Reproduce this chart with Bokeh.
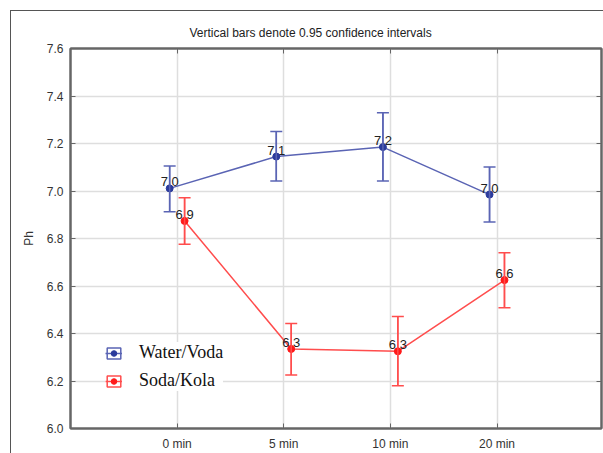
from bokeh.plotting import figure
from bokeh.models import (Range1d, FixedTicker, LinearAxis, Whisker, TeeHead, ColumnDataSource,
                          Legend, LegendItem, NumeralTickFormatter, InlineStyleSheet)
from bokeh.core.properties import value
from bokeh.embed import file_html
from bokeh.resources import INLINE

title_text = "Vertical bars denote 0.95 confidence intervals"
y_label = "Ph"
categories = ["0 min", "5 min", "10 min", "20 min"]
series_names = ["Water/Voda", "Soda/Kola"]
y_ticks = [6.0, 6.2, 6.4, 6.6, 6.8, 7.0, 7.2, 7.4, 7.6]

water_mean = [7.011, 7.145, 7.185, 6.985]
water_lo = [6.913, 7.042, 7.042, 6.869]
water_hi = [7.105, 7.251, 7.329, 7.101]

soda_mean = [6.874, 6.335, 6.325, 6.625]
soda_lo = [6.776, 6.225, 6.180, 6.508]
soda_hi = [6.972, 6.442, 6.472, 6.740]

FONT = "Liberation Sans"
positions = list(range(1, len(categories) + 1))
offset = 0.07

border_css = InlineStyleSheet(css="""
:host::after {
  content: "";
  position: absolute;
  left: 10px; top: 10px; right: 0px; bottom: 0px;
  border-left: 1px solid #555555;
  border-top: 1px solid #555555;
  pointer-events: none;
  z-index: 10;
}
""")

p = figure(width=603, height=453, output_backend="svg", toolbar_location=None,
           x_range=Range1d(0, 4.98), y_range=Range1d(6.0, 7.6),
           min_border_left=70, min_border_right=2, min_border_top=48, min_border_bottom=21,
           x_axis_location=None, y_axis_location=None, stylesheets=[border_css])
p.background_fill_color = "white"
p.border_fill_color = "white"
p.outline_line_color = "#666666"
p.outline_line_width = 2

p.title.text = title_text
p.title.align = "left"
p.title.offset = 119
p.title.text_font = FONT
p.title.text_font_size = "12px"
p.title.text_font_style = "normal"
p.title.text_color = "#222222"
p.title.standoff = 18

def style_axis(ax, show_labels=True):
    ax.major_tick_in = 5
    ax.major_tick_out = 0
    ax.minor_tick_line_color = None
    ax.axis_line_color = "#666666"
    ax.axis_line_width = 2
    ax.major_tick_line_color = "#666666"
    ax.major_tick_line_width = 1
    ax.major_label_text_font = FONT
    ax.major_label_text_font_size = "12px"
    ax.major_label_text_color = "#333333" if show_labels else None

xticker = FixedTicker(ticks=positions)
yticker = FixedTicker(ticks=y_ticks)

bottom = LinearAxis(ticker=xticker, major_label_overrides={pos: c for pos, c in zip(positions, categories)})
style_axis(bottom)
bottom.major_label_standoff = 8
p.add_layout(bottom, "below")

top = LinearAxis(ticker=xticker)
style_axis(top, False)
top.major_label_standoff = 0
p.add_layout(top, "above")

left = LinearAxis(ticker=yticker, formatter=NumeralTickFormatter(format="0.0"))
style_axis(left)
left.major_label_standoff = 7
left.axis_label = y_label
left.axis_label_text_font = FONT
left.axis_label_text_font_size = "12px"
left.axis_label_text_font_style = "normal"
left.axis_label_text_color = "#333333"
left.axis_label_standoff = 8
p.add_layout(left, "left")

right = LinearAxis(ticker=yticker)
style_axis(right, False)
p.add_layout(right, "right")

p.xgrid.ticker = xticker
p.ygrid.ticker = yticker
for g in (p.xgrid, p.ygrid):
    g.grid_line_color = "#dedede"
    g.grid_line_width = 1.5

series = [
    (series_names[0], water_mean, water_lo, water_hi, -offset, "#5a64b4", "#2b3b9c"),
    (series_names[1], soda_mean, soda_lo, soda_hi, offset, "#ff4d4d", "#ff1a1a"),
]

legend_items = []
for name, mean, lo, hi, off, lcol, dcol in series:
    src = ColumnDataSource(dict(
        x=[pos + off for pos in positions], y=mean, lo=lo, hi=hi,
        lab=[f"{v:.1f}" for v in mean]))
    ln = p.line("x", "y", source=src, line_color=lcol, line_width=1.5)
    p.text("x", "y", text="lab", source=src, text_align="center", text_baseline="bottom",
           y_offset=-2, text_font=value(FONT), text_font_size="13px", text_color="#222222")
    bar = p.vbar(x="x", top="hi", bottom="lo", width=0, source=src, fill_alpha=0,
                 line_color=lcol, line_width=1.5)
    wh = Whisker(base="x", lower="lo", upper="hi", source=src, line_color=lcol, line_width=1.5,
                 upper_head=TeeHead(size=12, line_color=lcol, line_width=1.5),
                 lower_head=TeeHead(size=12, line_color=lcol, line_width=1.5),
                 level="annotation")
    p.add_layout(wh)
    dots = p.scatter("x", "y", source=src, size=7, fill_color=dcol, line_color=dcol)
    legend_items.append(LegendItem(label=name, renderers=[bar, ln, dots], index=0))

legend = Legend(items=legend_items, location=(35, 37), orientation="vertical",
                background_fill_color="white", background_fill_alpha=1.0,
                border_line_color=None, padding=4, margin=0, spacing=7,
                glyph_width=17, glyph_height=14, label_height=20, label_standoff=17,
                label_text_font="Liberation Serif", label_text_font_size="18px",
                label_text_color="#111111")
p.add_layout(legend, "center")

open("out.html", "w").write(file_html(p, INLINE))
